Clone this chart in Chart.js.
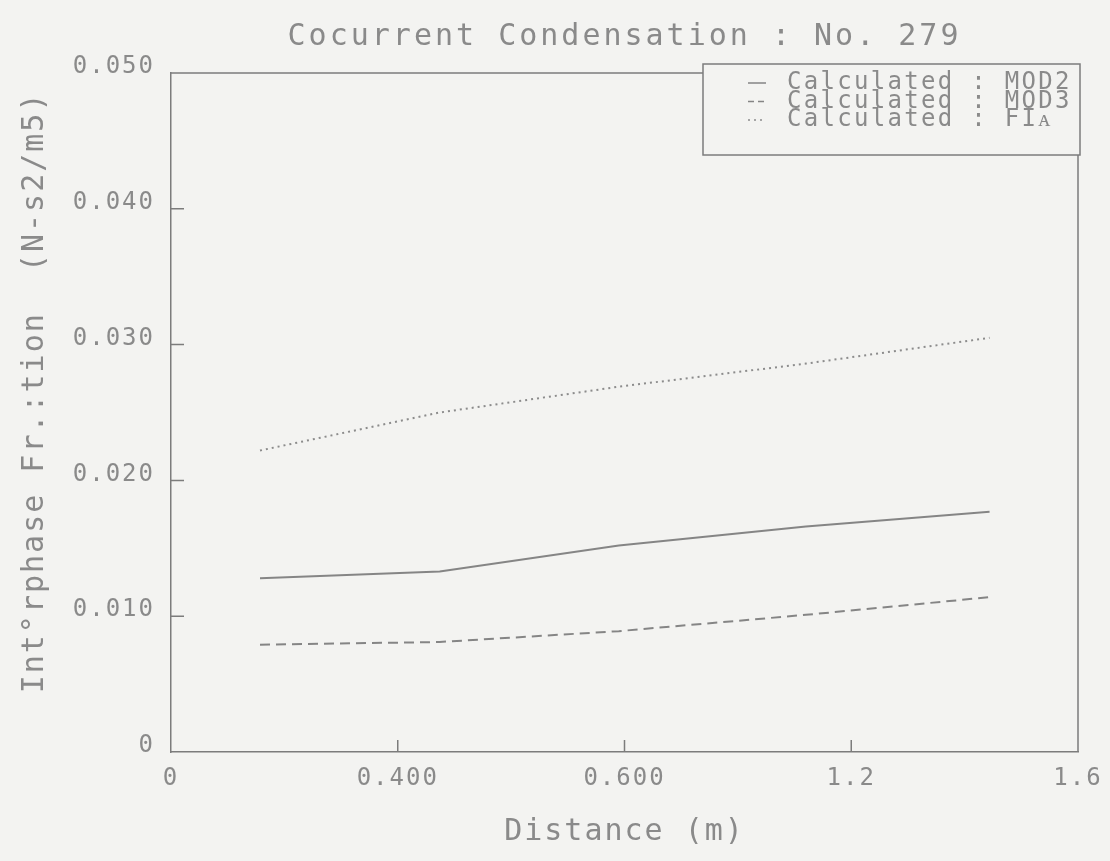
<!DOCTYPE html>
<html>
<head>
<meta charset="utf-8">
<title>Cocurrent Condensation : No. 279</title>
<script src="https://cdn.jsdelivr.net/npm/chart.js@4.4.1/dist/chart.umd.min.js"></script>
<style>
	html, body { margin: 0; padding: 0; background: #f3f3f1; }
	#wrap { width: 1110px; height: 861px; }
</style>
</head>
<body>
<div id="wrap"><canvas id="chart" width="1110" height="861"></canvas></div>
<script>
// Cocurrent condensation run 279 — interphase friction along the test section
const chartTitle = "Cocurrent Condensation : No. 279";
const xTitle = "Distance (m)";
const yTitle = "  Int°rphase Fr.:tion  (N-s2/m5)";

const distance = [0.157, 0.474, 0.79, 1.12, 1.444];
const mod2 = [0.0128, 0.0133, 0.0152, 0.0166, 0.0177];
const mod3 = [0.0079, 0.0081, 0.0089, 0.0101, 0.0114];
const fia = [0.0222, 0.025, 0.0269, 0.0286, 0.0305];

const seriesLabels = ["Calculated : MOD2", "Calculated : MOD3", "Calculated : FIᴀ"];
const xTickLabels = ["0", "0.400", "0.600", "1.2", "1.6"];
const yTickLabels = ["0", "0.010", "0.020", "0.030", "0.040", "0.050"];

const ink = "#8a8a8a";
const axisInk = "#7c7c7c";
const mono = "'DejaVu Sans Mono', monospace";

const toPoints = (ys) => ys.map((y, i) => ({ x: distance[i], y }));

// plotter look: spaced-out lettering everywhere
const spacing = {
	id: "spacing",
	beforeDraw(chart) {
		chart.ctx.letterSpacing = "2px";
	},
};

// title, box frame, inward tick marks and the boxed legend
const frame = {
	id: "frame",
	afterDraw(chart) {
		const { ctx, chartArea: a, scales } = chart;
		ctx.save();

		ctx.letterSpacing = "3px";
		ctx.font = "30px " + mono;
		ctx.fillStyle = ink;
		ctx.textAlign = "center";
		ctx.textBaseline = "middle";
		ctx.fillText(chartTitle, (a.left + a.right) / 2, 37);

		ctx.strokeStyle = axisInk;
		ctx.lineWidth = 1.5;
		ctx.beginPath();
		ctx.moveTo(a.left, a.top);
		ctx.lineTo(a.right, a.top);
		ctx.lineTo(a.right, a.bottom);
		ctx.stroke();

		ctx.beginPath();
		scales.y.ticks.forEach((t) => {
			const py = scales.y.getPixelForValue(t.value);
			if (py <= a.top + 1 || py >= a.bottom - 1) return;
			ctx.moveTo(a.left, py);
			ctx.lineTo(a.left + 13, py);
		});
		scales.x.ticks.forEach((t) => {
			const px = scales.x.getPixelForValue(t.value);
			if (px <= a.left + 1 || px >= a.right - 1) return;
			ctx.moveTo(px, a.bottom);
			ctx.lineTo(px, a.bottom - 12);
		});
		ctx.stroke();

		// legend box
		const bx = 703, by = 64, bw = 377, bh = 91;
		ctx.fillStyle = "#f3f3f1";
		ctx.fillRect(bx, by, bw, bh);
		ctx.strokeStyle = axisInk;
		ctx.lineWidth = 1.5;
		ctx.strokeRect(bx, by, bw, bh);

		const sampleDash = [[], [6, 4], [2, 4]];
		ctx.letterSpacing = "2.3px";
		ctx.font = "24px " + mono;
		ctx.textBaseline = "middle";
		ctx.textAlign = "left";
		ctx.fillStyle = ink;
		chart.data.datasets.forEach((ds, i) => {
			const ry = 83 + i * 18.5;
			ctx.strokeStyle = ds.borderColor;
			ctx.lineWidth = 1.5;
			ctx.setLineDash(sampleDash[i]);
			ctx.beginPath();
			ctx.moveTo(748, ry);
			ctx.lineTo(766, ry);
			ctx.stroke();
			ctx.setLineDash([]);
			ctx.fillText(ds.label, 787, ry);
		});
		ctx.restore();
	},
};

new Chart(document.getElementById("chart"), {
	type: "line",
	data: {
		datasets: [
			{
				label: seriesLabels[0],
				data: toPoints(mod2),
				borderColor: "#858585",
				borderWidth: 2,
				pointRadius: 0,
			},
			{
				label: seriesLabels[1],
				data: toPoints(mod3),
				borderColor: "#858585",
				borderWidth: 2,
				borderDash: [10, 6],
				pointRadius: 0,
			},
			{
				label: seriesLabels[2],
				data: toPoints(fia),
				borderColor: "#8c8c8c",
				borderWidth: 2,
				borderDash: [2, 4],
				pointRadius: 0,
			},
		],
	},
	options: {
		responsive: false,
		animation: false,
		layout: { padding: { top: 73, right: 32, left: 0, bottom: 0 } },
		plugins: {
			legend: { display: false },
			tooltip: { enabled: false },
			title: { display: false },
		},
		scales: {
			x: {
				type: "linear",
				min: 0,
				max: 1.6,
				afterFit: (scale) => { scale.height = 109; },
				grid: { display: false },
				border: { display: true, color: axisInk, width: 1.5 },
				ticks: {
					stepSize: 0.4,
					color: ink,
					font: { family: mono, size: 24 },
					padding: 4,
					maxRotation: 0,
					callback: (value, index) => xTickLabels[index],
				},
				title: {
					display: true,
					text: xTitle,
					color: ink,
					font: { family: mono, size: 30, lineHeight: 1.2 },
					padding: { top: 0, bottom: 11 },
				},
			},
			y: {
				min: 0,
				max: 0.05,
				afterFit: (scale) => { scale.width = 171; },
				grid: { display: false },
				border: { display: true, color: axisInk, width: 1.5 },
				ticks: {
					stepSize: 0.01,
					color: ink,
					font: { family: mono, size: 24 },
					padding: 8,
					labelOffset: -6,
					callback: (value, index) => yTickLabels[index],
				},
				title: {
					display: true,
					text: yTitle,
					color: ink,
					font: { family: mono, size: 30, lineHeight: 1.2 },
					padding: { top: 17, bottom: 0 },
				},
			},
		},
	},
	plugins: [spacing, frame],
});
</script>
</body>
</html>
